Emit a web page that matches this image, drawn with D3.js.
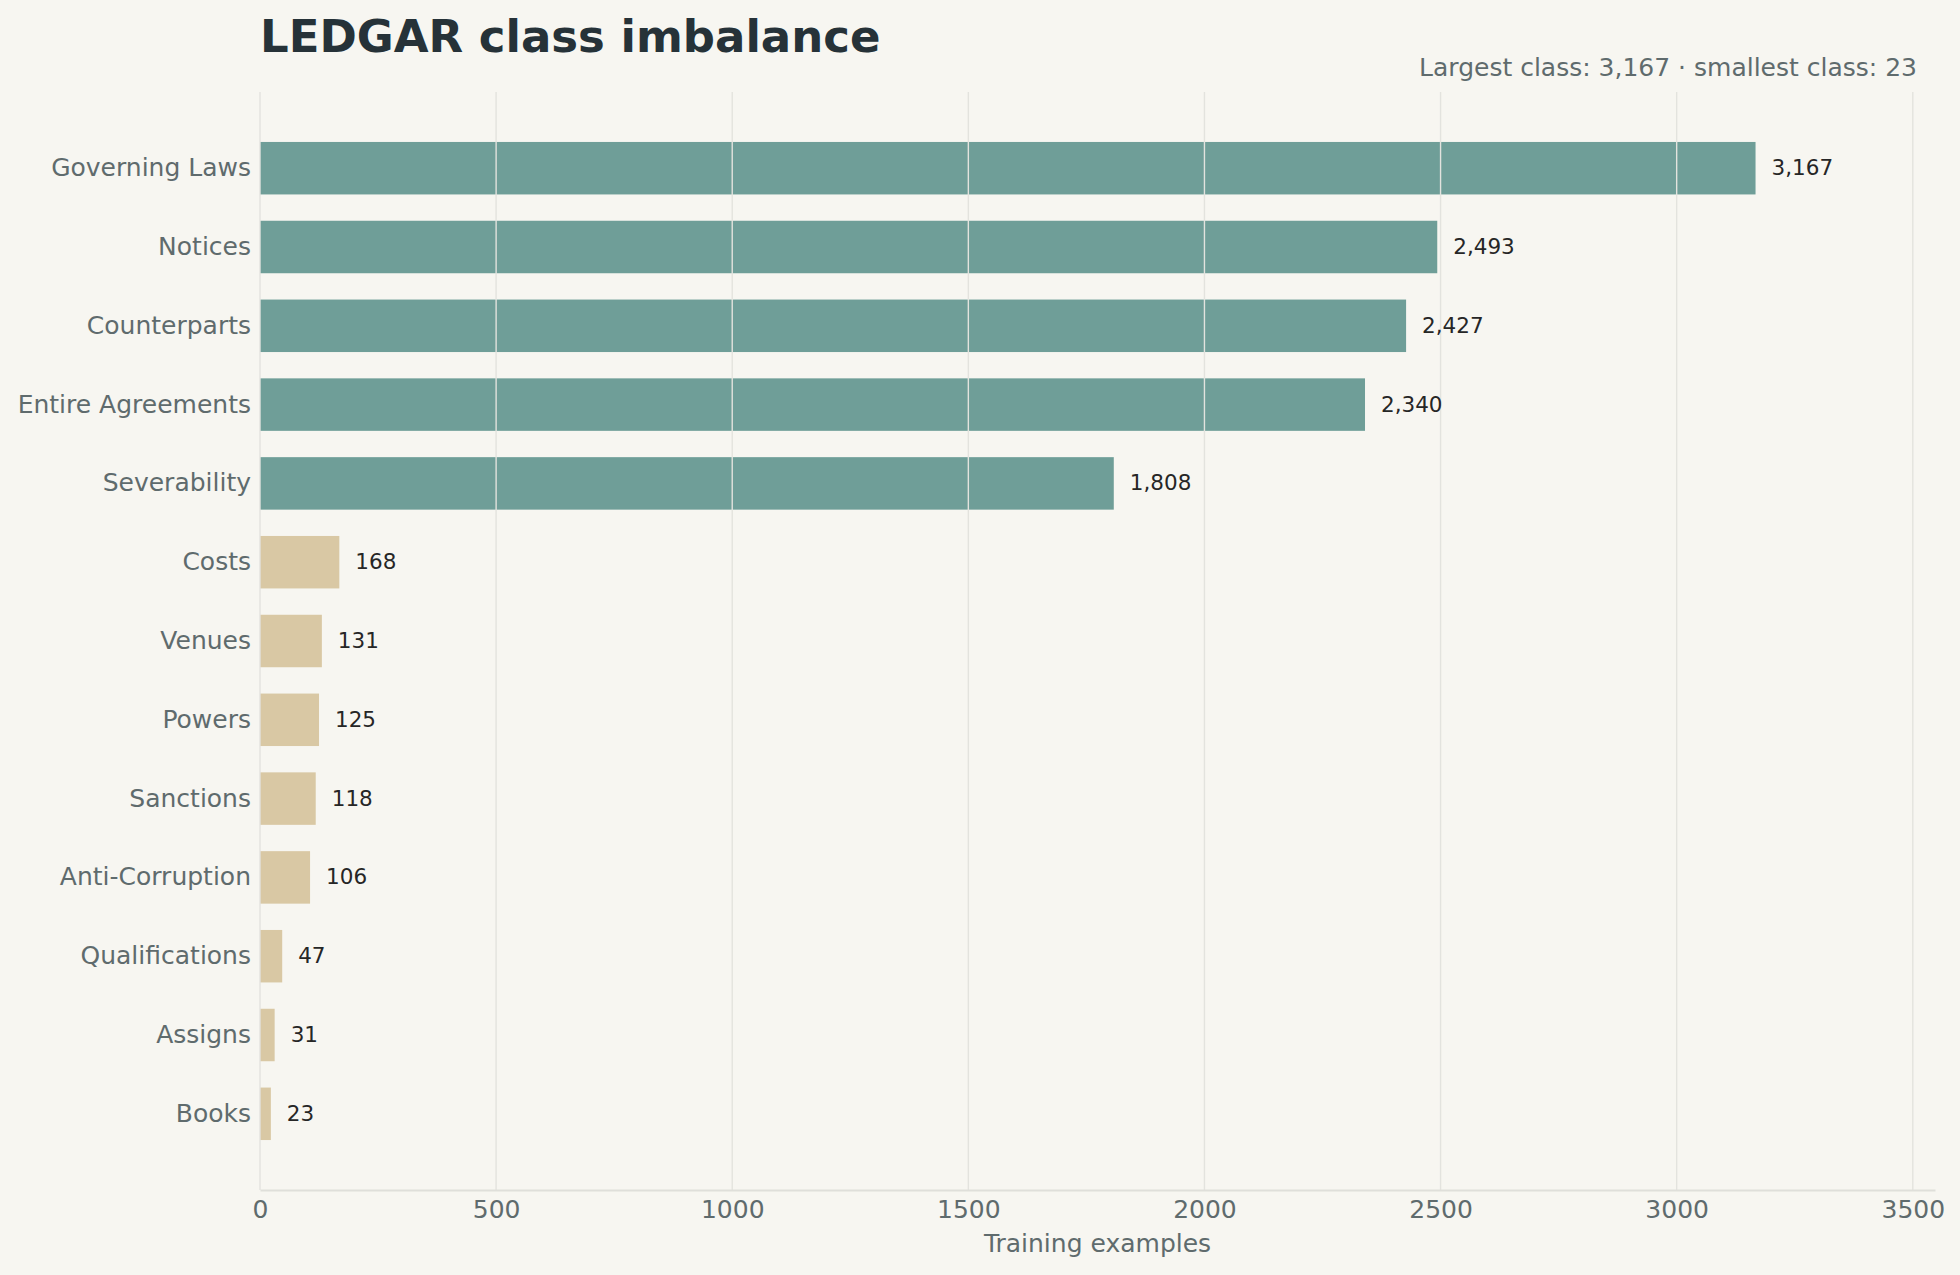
<!DOCTYPE html>
<html>
<head>
<meta charset="utf-8">
<script src="https://cdn.jsdelivr.net/npm/d3@7"></script>
<style>
  html, body { margin: 0; padding: 0; background: #f7f6f1; }
  svg { display: block; font-family: "DejaVu Sans", sans-serif; }
  .title { font-size: 45px; font-weight: bold; fill: #263238; }
  .subtitle { font-size: 25px; fill: #5f6b6d; }
  .y-axis text, .x-axis text { font-size: 25px; fill: #5f6b6d; }
  .x-label { font-size: 25px; fill: #5f6b6d; }
  .value { font-size: 21.5px; fill: #262626; }
</style>
</head>
<body>
<svg id="chart" width="1960" height="1275"></svg>
<script>
// LEDGAR training examples per class
const categories = [
  "Governing Laws",
  "Notices",
  "Counterparts",
  "Entire Agreements",
  "Severability",
  "Costs",
  "Venues",
  "Powers",
  "Sanctions",
  "Anti-Corruption",
  "Qualifications",
  "Assigns",
  "Books"
];
const counts = [3167, 2493, 2427, 2340, 1808, 168, 131, 125, 118, 106, 47, 31, 23];
// head classes vs long tail
const groups = ["head", "head", "head", "head", "head",
  "tail", "tail", "tail", "tail", "tail", "tail", "tail", "tail"];
const xTicks = [0, 500, 1000, 1500, 2000, 2500, 3000, 3500];

const data = categories.map((c, i) => ({ name: c, value: counts[i], group: groups[i] }));

var svg = d3.select("#chart"),
  margin = { top: 92, right: 25, bottom: 85, left: 260 },
  width = +svg.attr("width") - margin.left - margin.right,
  height = +svg.attr("height") - margin.top - margin.bottom;

const x = d3
  .scaleLinear()
  .domain([0, d3.max(counts) * 1.12])
  .range([0, width]);

const y = d3
  .scaleBand()
  .domain(categories)
  .range([0, height])
  .paddingInner(0.334)
  .paddingOuter(0.634);

var color = d3.scaleOrdinal().domain(["head", "tail"]).range(["#6f9e98", "#d9c8a4"]);

const fmt = d3.format(",");

var g = svg.append("g").attr("transform", `translate(${margin.left},${margin.top})`);

// bars
g.selectAll(".bar")
  .data(data)
  .enter()
  .append("rect")
  .attr("class", "bar")
  .attr("x", x(0))
  .attr("y", (d) => y(d.name))
  .attr("width", (d) => x(d.value) - x(0))
  .attr("height", y.bandwidth())
  .style("fill", (d) => color(d.group));

// grid sits on top of the bars
g.append("g")
  .attr("class", "grid")
  .selectAll("line")
  .data(xTicks)
  .enter()
  .append("line")
  .attr("x1", (d) => x(d))
  .attr("x2", (d) => x(d))
  .attr("y1", 0)
  .attr("y2", height)
  .attr("stroke", "#e3e3de")
  .attr("stroke-width", 1.4);

// x axis
g.append("g")
  .attr("class", "x-axis")
  .attr("transform", `translate(0,${height})`)
  .call(d3.axisBottom(x).tickValues(xTicks).tickFormat(d3.format("d")).tickSize(0).tickPadding(10))
  .attr("font-family", null)
  .attr("font-size", null)
  .call((a) => a.select(".domain").attr("stroke", "#dfdfda").attr("stroke-width", 2.2));

// y axis (labels only)
g.append("g")
  .attr("class", "y-axis")
  .call(d3.axisLeft(y).tickSize(0).tickPadding(9))
  .attr("font-family", null)
  .attr("font-size", null)
  .call((a) => a.select(".domain").remove());

// value labels
g.selectAll(".value")
  .data(data)
  .enter()
  .append("text")
  .attr("class", "value")
  .attr("x", (d) => x(d.value) + 16)
  .attr("y", (d) => y(d.name) + y.bandwidth() / 2)
  .attr("dy", "0.33em")
  .text((d) => fmt(d.value));

svg.append("text")
  .attr("class", "x-label")
  .attr("x", margin.left + width / 2)
  .attr("y", 1252)
  .attr("text-anchor", "middle")
  .text("Training examples");

svg.append("text")
  .attr("class", "title")
  .attr("x", margin.left)
  .attr("y", 52)
  .text("LEDGAR class imbalance");

svg.append("text")
  .attr("class", "subtitle")
  .attr("x", 1917)
  .attr("y", 76)
  .attr("text-anchor", "end")
  .text(`Largest class: ${fmt(d3.max(counts))} · smallest class: ${fmt(d3.min(counts))}`);
</script>
</body>
</html>
